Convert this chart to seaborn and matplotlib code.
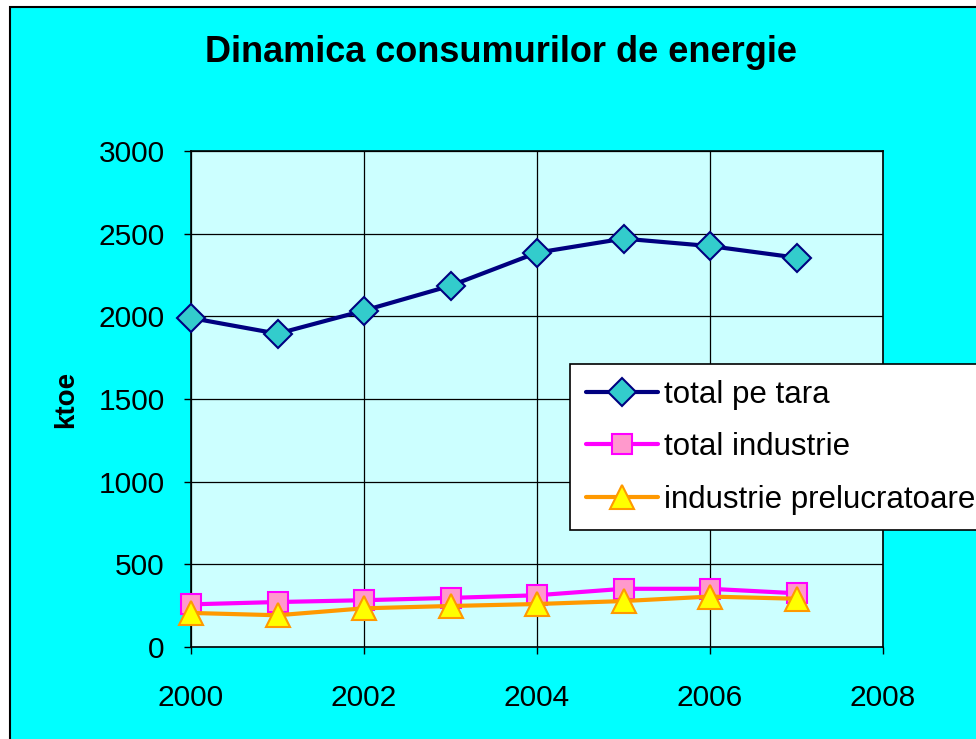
import matplotlib
matplotlib.use("Agg")
import seaborn as sns
import numpy as np
import pandas as pd
import matplotlib.pyplot as plt
from matplotlib.patches import Rectangle

sns.set_style("white")
plt.rcParams['font.family'] = ['Liberation Sans', 'DejaVu Sans']
plt.rcParams['text.color'] = 'black'
plt.rcParams['xtick.color'] = 'black'
plt.rcParams['ytick.color'] = 'black'
plt.rcParams['axes.labelcolor'] = 'black'

# date (ktoe)
ani = [2000, 2001, 2002, 2003, 2004, 2005, 2006, 2007]
total_tara = [1990, 1895, 2035, 2185, 2385, 2470, 2425, 2355]
total_industrie = [258, 272, 283, 297, 313, 352, 352, 325]
industrie_prelucratoare = [206, 192, 234, 248, 260, 278, 305, 292]

df = pd.DataFrame({
    "an": ani,
    "total pe tara": total_tara,
    "total industrie": total_industrie,
    "industrie prelucratoare": industrie_prelucratoare,
})

fig = plt.figure(figsize=(9.76, 7.39), dpi=100, facecolor="white")
# chenarul zonei graficului (taiat in dreapta si jos)
fig.add_artist(Rectangle((10 / 976, -0.1), 1.2, 1 - 7 / 739 + 0.1,
                         transform=fig.transFigure, facecolor="#00FFFF",
                         edgecolor="black", lw=1.5, zorder=-5))

ax = fig.add_axes([191 / 976, 1 - 647 / 739, 692 / 976, 496 / 739])
ax.set_facecolor("#CCFFFF")

stiluri = [
    ("total pe tara", "#000080", "D", "#33CCCC", 14),
    ("total industrie", "#FF00FF", "s", "#FF99CC", 15),
    ("industrie prelucratoare", "#FF9900", "^", "#FFFF00", 17),
]
for col, culoare, mk, fata, ms in stiluri:
    sns.lineplot(data=df, x="an", y=col, ax=ax, color=culoare, lw=3,
                 marker=mk, markersize=ms, markerfacecolor=fata,
                 markeredgecolor=culoare, markeredgewidth=1.5,
                 label=col, clip_on=False, zorder=3)

ax.set_xlim(2000, 2008)
ax.set_ylim(0, 3000)
ax.set_xticks([2000, 2002, 2004, 2006, 2008])
ax.set_yticks(np.arange(0, 3001, 500))
ax.grid(True, color="black", lw=0.9)
ax.set_axisbelow(True)
for s in ax.spines.values():
    s.set_color("black")
    s.set_linewidth(1.2)
ax.tick_params(axis="both", labelsize=21.5, length=5, width=1, direction="out",
               color="black", labelcolor="black", bottom=True, left=True)
ax.tick_params(axis="x", pad=22)
ax.tick_params(axis="y", pad=14)
ax.set_xlabel("")
ax.set_ylabel("ktoe", fontsize=20, fontweight="bold", labelpad=14, color="black")

fig.text(501 / 976, 1 - 53 / 739, "Dinamica consumurilor de energie",
         fontsize=26, fontweight="bold", ha="center", va="center", color="black")

leg = ax.legend(loc="upper left", bbox_to_anchor=(570 / 976, 1 - 364 / 739),
                bbox_transform=fig.transFigure, fontsize=22.5, frameon=True,
                fancybox=False, edgecolor="black", facecolor="white",
                handlelength=2.3, handletextpad=0.2, labelspacing=0.72,
                borderpad=0.5, borderaxespad=0)
leg.get_frame().set_linewidth(1.2)
leg.get_frame().set_alpha(1)
for t in leg.get_texts():
    t.set_color("black")

fig.savefig("out.png", dpi=100, facecolor="white")
